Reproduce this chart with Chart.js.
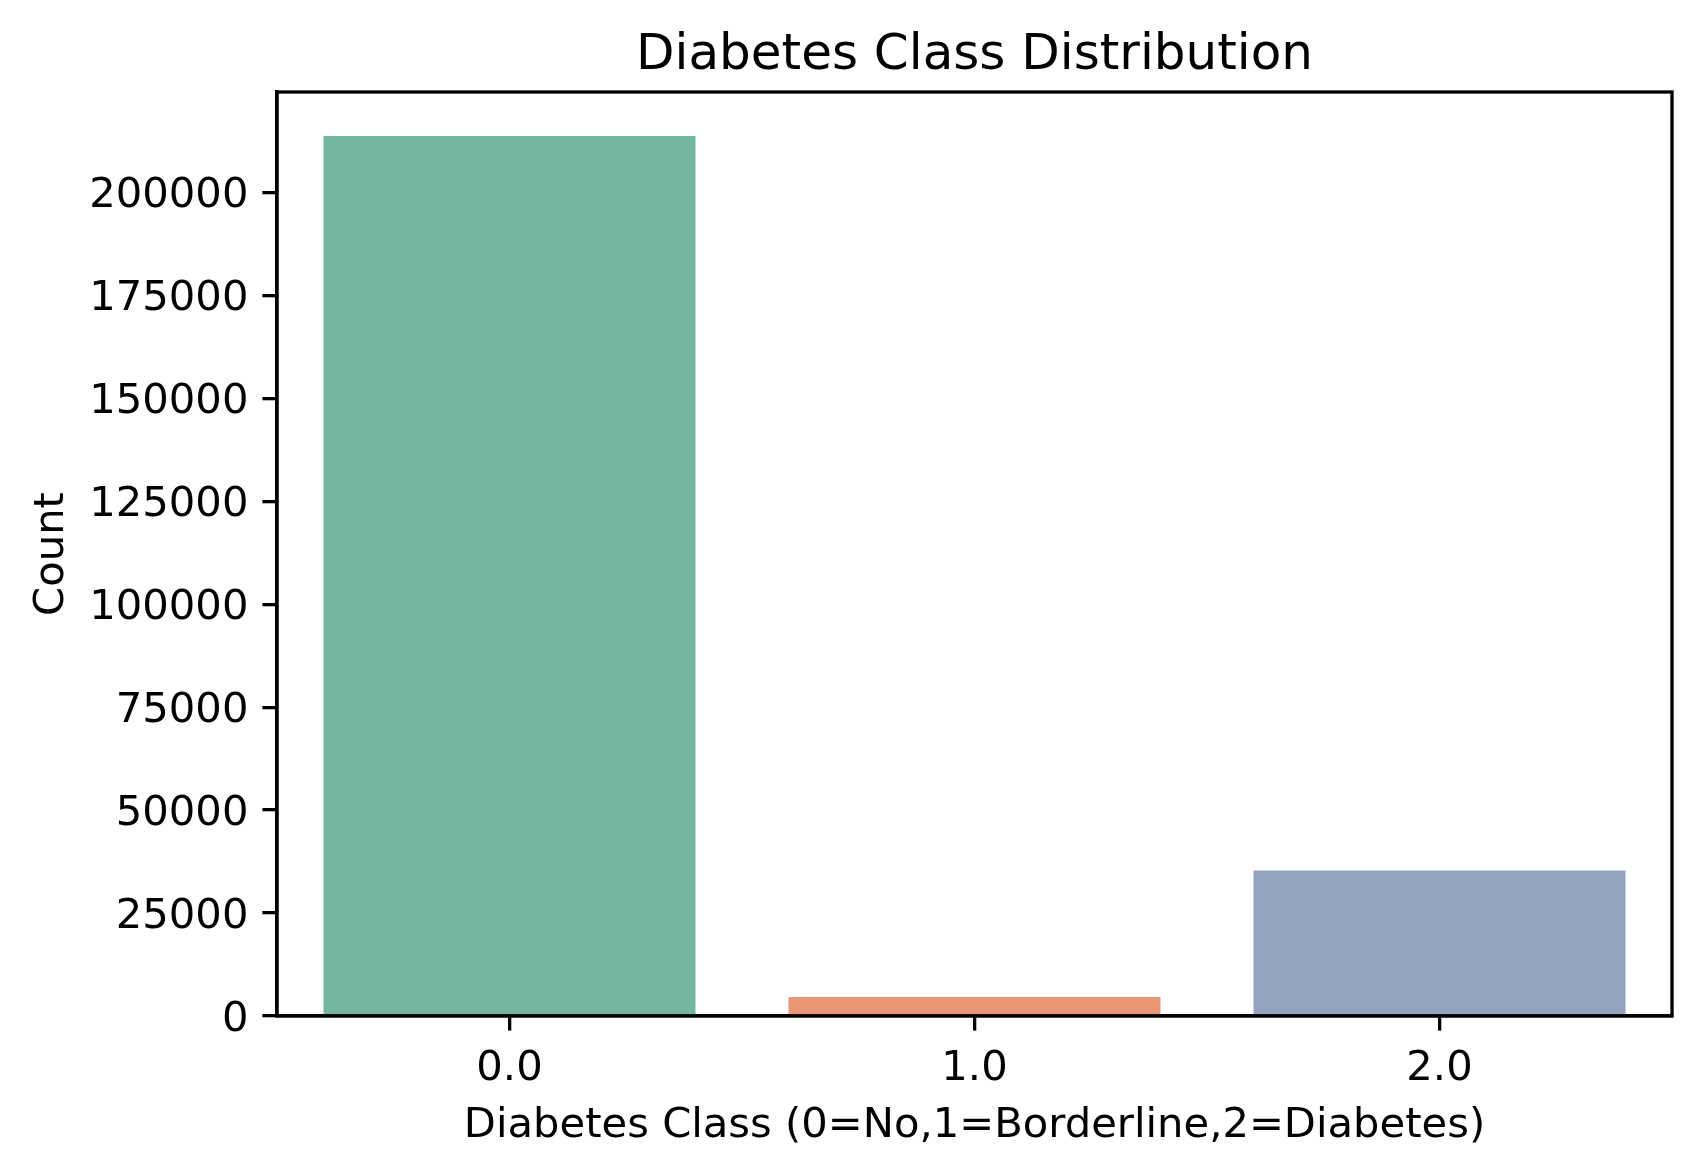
<!DOCTYPE html>
<html>
<head>
<meta charset="utf-8">
<title>Diabetes Class Distribution</title>
<script src="https://cdn.jsdelivr.net/npm/chart.js@4.4.1/dist/chart.umd.min.js"></script>
<style>
    html, body { margin: 0; padding: 0; background: #ffffff; }
    #chart { display: block; }
</style>
</head>
<body>
<canvas id="chart" width="1701" height="1176"></canvas>
<script>
// Chart data
const classLabels = ['0.0', '1.0', '2.0'];
const classCounts = [213703, 4631, 35346];
const barColors = ['#72b6a1', '#e99675', '#95a3c3'];
const yTickValues = [0, 25000, 50000, 75000, 100000, 125000, 150000, 175000, 200000];

const FONT = 'DejaVu Sans';
const LABEL_SIZE = 41.7;
const TITLE_SIZE = 50;
const LINE_W = 3.3;

// frame around the plot area (top and right spines) + title centred over the axes
const framePlugin = {
    id: 'frame',
    afterLayout(chart) {
        if (chart.titleBlock) {
            chart.titleBlock.left = chart.chartArea.left;
            chart.titleBlock.right = chart.chartArea.right;
        }
    },
    afterDraw(chart) {
        const { ctx, chartArea } = chart;
        ctx.save();
        ctx.strokeStyle = '#000000';
        ctx.lineWidth = LINE_W;
        ctx.strokeRect(chartArea.left, chartArea.top, chartArea.right - chartArea.left, chartArea.bottom - chartArea.top);
        ctx.restore();
    }
};

new Chart(document.getElementById('chart'), {
    type: 'bar',
    data: {
        labels: classLabels,
        datasets: [{
            data: classCounts,
            backgroundColor: barColors,
            borderWidth: 0,
            barPercentage: 0.8,
            categoryPercentage: 1.0
        }]
    },
    options: {
        responsive: false,
        devicePixelRatio: 1,
        animation: false,
        layout: {
            padding: { left: 0, right: 29, top: 0, bottom: 0 }
        },
        plugins: {
            legend: { display: false },
            tooltip: { enabled: false },
            title: {
                display: true,
                text: 'Diabetes Class Distribution',
                color: '#000000',
                font: { family: FONT, size: TITLE_SIZE, weight: 'normal', lineHeight: 1.2 },
                padding: { top: 26, bottom: 6 }
            }
        },
        scales: {
            x: {
                offset: true,
                grid: {
                    offset: false,
                    drawOnChartArea: false,
                    drawTicks: true,
                    tickLength: 14.6,
                    tickWidth: LINE_W,
                    tickColor: '#000000',
                    lineWidth: LINE_W,
                    color: '#000000'
                },
                border: { display: true, color: '#000000', width: LINE_W },
                ticks: {
                    color: '#000000',
                    font: { family: FONT, size: LABEL_SIZE },
                    padding: 14,
                    maxRotation: 0
                },
                title: {
                    display: true,
                    text: 'Diabetes Class (0=No,1=Borderline,2=Diabetes)',
                    color: '#000000',
                    font: { family: FONT, size: LABEL_SIZE, lineHeight: 1.2 },
                    padding: { top: 0, bottom: 25 }
                },
                afterFit(scale) {
                    scale.height = 160;
                }
            },
            y: {
                min: 0,
                max: 224388,
                grid: {
                    drawOnChartArea: false,
                    drawTicks: true,
                    tickLength: 14.6,
                    tickWidth: LINE_W,
                    tickColor: '#000000',
                    lineWidth: LINE_W,
                    color: '#000000'
                },
                border: { display: true, color: '#000000', width: LINE_W },
                ticks: {
                    color: '#000000',
                    font: { family: FONT, size: LABEL_SIZE },
                    padding: 14,
                    labelOffset: 4,
                    callback: function(value) {
                        return String(value);
                    }
                },
                afterBuildTicks(scale) {
                    scale.ticks = yTickValues.map(v => ({ value: v }));
                },
                title: {
                    display: true,
                    text: 'Count',
                    color: '#000000',
                    font: { family: FONT, size: LABEL_SIZE, lineHeight: 1.2 },
                    padding: { top: 27, bottom: 0 }
                },
                afterFit(scale) {
                    scale.width = 277;
                }
            }
        }
    },
    plugins: [framePlugin]
});
</script>
</body>
</html>
